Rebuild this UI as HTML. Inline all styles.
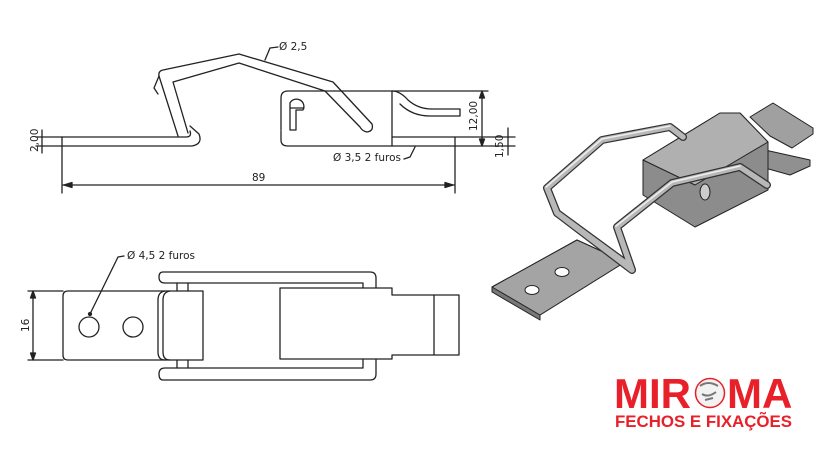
<!DOCTYPE html>
<html><head><meta charset="utf-8"><style>
html,body{margin:0;padding:0;background:#fff}
svg{display:block}
text{font-family:"DejaVu Sans","Liberation Sans",sans-serif;fill:#222}
</style></head><body>
<svg width="830" height="450" viewBox="0 0 830 450" xmlns="http://www.w3.org/2000/svg">
<g fill="none" stroke="#222" stroke-width="1.3" stroke-linejoin="round" stroke-linecap="round">
<!-- TOP VIEW -->
<path d="M62,137 L186,137 Q192,137 190,131"/>
<path d="M62,137 L62,146 L192,146 Q203,144 199,134 L190,126"/>
<path d="M178,136 L159,76 Q158,71 163,70 L239,54 L333,82 L372,124 Q374,131 367,132 Q362,131 360,127 L325,91 L239,63 L173,82 L188,133"/>
<path d="M159,76 L154,88 L158,94"/>
<path d="M392,91 L288,91 Q281,91 281,98 L281,130"/>
<path d="M281,131 L281,140 Q281,146 288,146 L392,146 L392,91"/>
<path d="M392,137 L455,137 L455,146 L392,146"/>
<path d="M392,91 Q400,91 408,100 Q418,109 432,109 L460,109 L460,116 L430,116 Q412,116 400,104"/>
<path d="M290,130 L290,103 A7,7 0 1 1 303,110 L296,110 L296,130 Z"/>
<path d="M290,108 L304,108"/>
<path d="M62,146 L62,193 M455,146 L455,193 M62,185 L455,185"/>
<path d="M64,185 l8,-2.5 l0,5 z M453,185 l-8,-2.5 l0,5 z" fill="#222"/>
<path d="M36,137 L62,137 M36,146 L62,146 M42,130 L42,153"/>
<path d="M392,91 L488,91 M455,146 L488,146 M482,93 L482,144 M455,137 L515,137 M470,146 L515,146 M508,128 L508,155"/>
<path d="M482,91 l-2.5,7 l5,0 z M482,146 l-2.5,-7 l5,0 z" fill="#222"/>
<path d="M265,60 L270,48 L278,47 M415,147 L410,157 L404,159"/>
<!-- BOTTOM VIEW -->
<path d="M68,291 L203,291 L203,360 L68,360 Q63,360 63,355 L63,296 Q63,291 68,291 Z"/>
<circle cx="89" cy="327" r="10"/><circle cx="133" cy="327" r="10"/>
<path d="M165,291 Q158,292 158,300 L158,352 Q158,360 165,360 M170,291 Q163,292 163,300 L163,352 Q163,360 170,360"/>
<path d="M163,272 L370,272 Q376,272 376,278 L376,288 M165,283 Q159,283 159,277 Q159,272 163,272 M165,283 L363,283 L363,288"/>
<path d="M163,380 L370,380 Q376,380 376,374 L376,359 M165,368 Q159,368 159,374 Q159,380 163,380 M165,368 L363,368 L363,359"/>
<path d="M177,283 L177,291 M188,283 L188,291 M177,360 L177,368 M188,360 L188,368"/>
<path d="M280,288 L392,288 L392,295 L459,295 L459,355 L392,355 L392,359 L280,359 Z M434,295 L434,355"/>
<path d="M28,291 L63,291 M28,360 L63,360 M33,293 L33,358"/>
<path d="M33,291 l-2.5,7 l5,0 z M33,360 l-2.5,-7 l5,0 z" fill="#222"/>
<path d="M90,314 L118,257 L124,256"/>
<circle cx="90" cy="314" r="1.5" fill="#222"/>
</g>
<g font-size="10.5">
<text x="279" y="50">Ø 2,5</text>
<text x="333" y="161">Ø 3,5  2 furos</text>
<text x="252" y="181">89</text>
<text x="127" y="259">Ø 4,5  2 furos</text>
<text transform="translate(38,152) rotate(-90)">2,00</text>
<text transform="translate(477,131) rotate(-90)">12,00</text>
<text transform="translate(503,158) rotate(-90)">1,50</text>
<text transform="translate(29,332) rotate(-90)">16</text>
</g>
<!-- 3D VIEW -->
<g stroke="#222" stroke-width="1" stroke-linejoin="round">
<polygon points="492,287 577,240 625,262 540,315 540,320 492,292" fill="#777"/>
<polygon points="492,287 577,240 625,262 540,315" fill="#a4a4a4"/>
<ellipse cx="532" cy="290" rx="7" ry="4.5" fill="#fff"/>
<ellipse cx="562" cy="272" rx="7" ry="4.5" fill="#fff"/>
<polygon points="750,117 773,103 813,128 813,134 792,148 770,136" fill="#a0a0a0"/>
<polygon points="765,150 810,160 810,166 790,175 765,168" fill="#909090"/>
<polygon points="643,160 720,113 740,113 768,142 768,190 695,227 643,195" fill="#8c8c8c"/>
<polygon points="643,160 720,113 740,113 768,142 695,185" fill="#b0b0b0"/>
<ellipse cx="705" cy="192" rx="5" ry="8" fill="#ccc"/>
</g>
<g fill="none" stroke-linecap="round" stroke-linejoin="round">
<path d="M683,137 L670,127 L602,140 L547,188 L557,213 L628,265 M557,213 L632,270 L617,227 L672,183 L740,167 L767,185" stroke="#333" stroke-width="8"/>
<path d="M683,137 L670,127 L602,140 L547,188 L557,213 L628,265 M557,213 L632,270 L617,227 L672,183 L740,167 L767,185" stroke="#b8b8b8" stroke-width="5.5"/>
<path d="M670,126 L602,139 L546,187 M616,226 L672,182 L740,166" stroke="#eee" stroke-width="1.5"/>
</g>
<!-- LOGO -->
<g font-family="Liberation Sans,sans-serif" font-weight="bold">
<text x="614" y="408" font-size="42" style="fill:#e8202a;font-family:'Liberation Sans',sans-serif">MIR</text>
<text x="727" y="408" font-size="42" style="fill:#e8202a;font-family:'Liberation Sans',sans-serif">MA</text>
<text x="615" y="427" font-size="17" textLength="177" lengthAdjust="spacingAndGlyphs" style="fill:#e8202a;font-family:'Liberation Sans',sans-serif">FECHOS E FIXAÇÕES</text>
</g>
<circle cx="710" cy="393" r="14.5" fill="#f2f2f2" stroke="#e8202a" stroke-width="1.5"/>
<path d="M700,386 q8,-6 18,0 M702,394 q6,4 14,-2 M705,400 l8,-2" stroke="#777" stroke-width="2" fill="none"/>
</svg>
</body></html>
